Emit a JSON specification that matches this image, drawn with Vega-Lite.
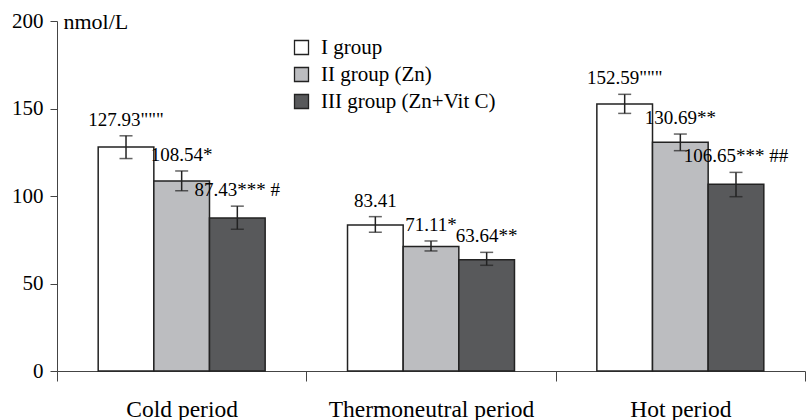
{
  "$schema": "https://vega.github.io/schema/vega-lite/v6.json",
  "width": 748,
  "height": 350,
  "autosize": "none",
  "padding": {"left": 57, "top": 21, "right": 3, "bottom": 49},
  "config": {"font": "Liberation Serif", "view": {"stroke": null}},
  "data": {
    "values": [
      {"period": "Cold period", "group": "I group", "value": 127.93, "lo": 121.4, "hi": 134.4, "label": "127.93\"\"\""},
      {"period": "Cold period", "group": "II group (Zn)", "value": 108.54, "lo": 103.0, "hi": 114.3, "label": "108.54*"},
      {"period": "Cold period", "group": "III group (Zn+Vit C)", "value": 87.43, "lo": 81.0, "hi": 94.2, "label": "87.43*** #"},
      {"period": "Thermoneutral period", "group": "I group", "value": 83.41, "lo": 79.3, "hi": 88.2, "label": "83.41"},
      {"period": "Thermoneutral period", "group": "II group (Zn)", "value": 71.11, "lo": 68.6, "hi": 74.3, "label": "71.11*"},
      {"period": "Thermoneutral period", "group": "III group (Zn+Vit C)", "value": 63.64, "lo": 60.4, "hi": 67.8, "label": "63.64**"},
      {"period": "Hot period", "group": "I group", "value": 152.59, "lo": 147.2, "hi": 158.1, "label": "152.59\"\"\""},
      {"period": "Hot period", "group": "II group (Zn)", "value": 130.69, "lo": 125.9, "hi": 135.4, "label": "130.69**"},
      {"period": "Hot period", "group": "III group (Zn+Vit C)", "value": 106.65, "lo": 99.6, "hi": 113.5, "label": "106.65*** ##"}
    ]
  },
  "encoding": {
    "x": {
      "field": "period", "type": "nominal",
      "sort": ["Cold period", "Thermoneutral period", "Hot period"],
      "scale": {"paddingInner": 0, "paddingOuter": 0},
      "axis": {"title": null, "tickBand": "extent", "tickSize": 10, "labelAngle": 0, "labelLimit": 400, "labelFont": "Liberation Serif", "labelFontSize": 23.5, "labelPadding": 16, "labelColor": "#000", "domainColor": "#444", "tickColor": "#444"}
    },
    "xOffset": {
      "field": "group", "type": "nominal",
      "sort": ["I group", "II group (Zn)", "III group (Zn+Vit C)"],
      "scale": {"paddingInner": 0, "paddingOuter": 0.74}
    }
  },
  "layer": [
    {
      "mark": {"type": "bar", "stroke": "#222", "strokeWidth": 1.5},
      "encoding": {
        "y": {
          "field": "value", "type": "quantitative",
          "scale": {"domain": [0, 200]},
          "axis": {"values": [0, 50, 100, 150, 200], "grid": false, "title": "nmol/L", "titleFont": "Liberation Serif", "labelFont": "Liberation Serif", "titleAngle": 0, "titleAlign": "left", "titleBaseline": "middle", "titleX": 6, "titleY": 0, "titleFontSize": 22, "titleFontWeight": "normal", "titleColor": "#000", "labelFontSize": 21, "labelColor": "#000", "tickSize": 7, "labelPadding": 7, "domainColor": "#444", "tickColor": "#444"}
        },
        "fill": {
          "field": "group", "type": "nominal",
          "sort": ["I group", "II group (Zn)", "III group (Zn+Vit C)"],
          "scale": {"range": ["#ffffff", "#bcbdc0", "#58595b"]},
          "legend": {"title": null, "orient": "none", "legendX": 234, "legendY": 16, "symbolType": "square", "symbolSize": 196, "symbolStrokeColor": "#222", "symbolStrokeWidth": 1.3, "labelFont": "Liberation Serif", "labelFontSize": 21, "labelLimit": 400, "labelColor": "#000", "labelOffset": 9, "rowPadding": 5}
        }
      }
    },
    {
      "mark": {"type": "rule", "color": "#222", "strokeWidth": 1.5},
      "encoding": {"y": {"field": "lo", "type": "quantitative"}, "y2": {"field": "hi"}}
    },
    {
      "mark": {"type": "tick", "color": "#222", "thickness": 1.5, "size": 13, "orient": "horizontal"},
      "encoding": {"y": {"field": "lo", "type": "quantitative"}}
    },
    {
      "mark": {"type": "tick", "color": "#222", "thickness": 1.5, "size": 13, "orient": "horizontal"},
      "encoding": {"y": {"field": "hi", "type": "quantitative"}}
    },
    {
      "mark": {"type": "text", "dy": -10, "font": "Liberation Serif", "fontSize": 19, "baseline": "alphabetic", "color": "#000"},
      "encoding": {"y": {"field": "hi", "type": "quantitative"}, "text": {"field": "label"}}
    }
  ]
}
